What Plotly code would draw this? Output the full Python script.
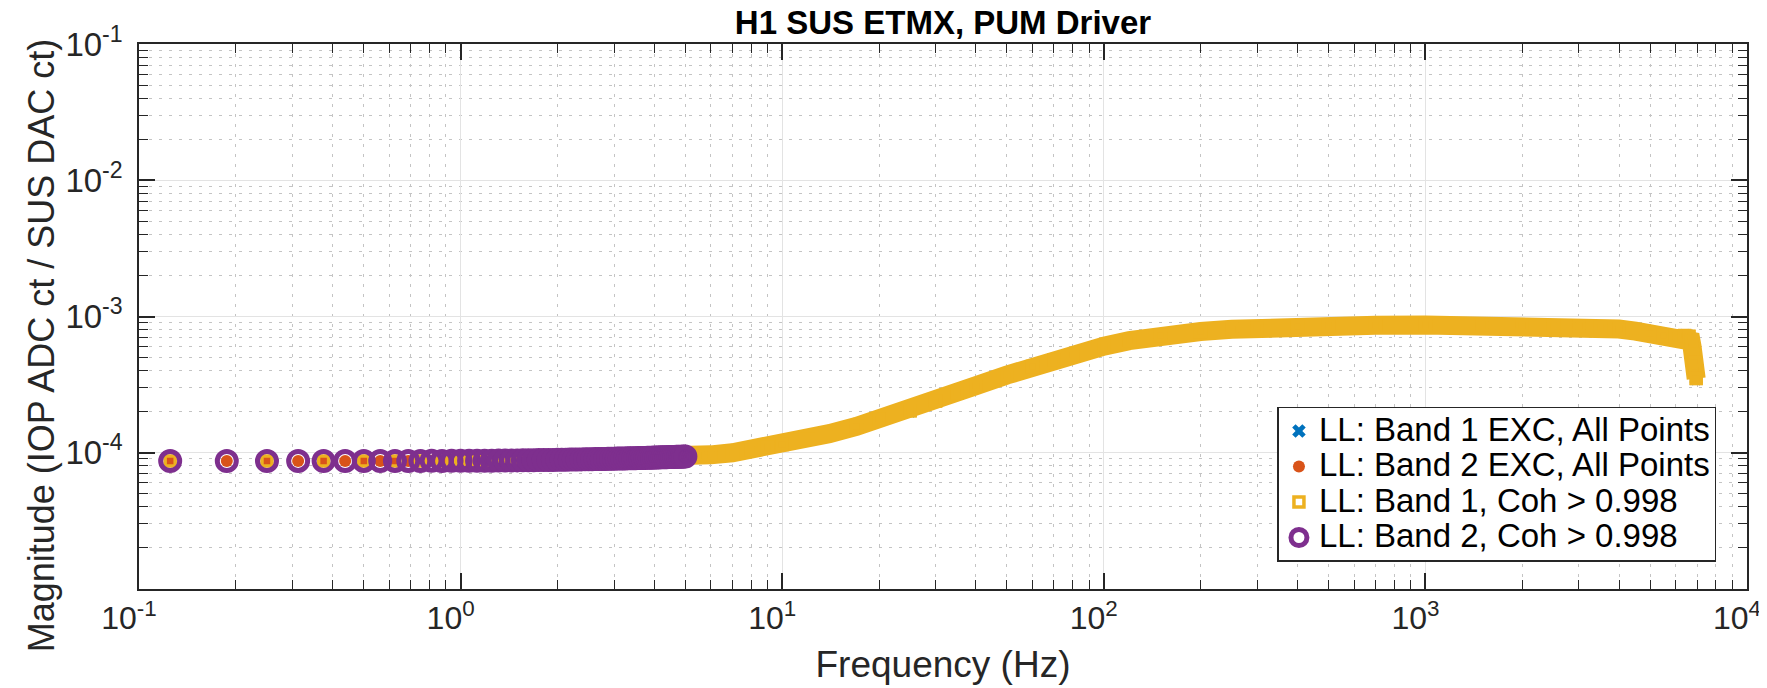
import plotly.graph_objects as go

# Band 2 excitation points (0.0625 Hz spacing), magnitude
band2_freq = [
    0.125, 0.1875, 0.25, 0.3125, 0.375, 0.4375, 0.5, 0.5625, 0.625, 0.6875,
    0.75, 0.8125, 0.875, 0.9375, 1.0,
    1.0625, 1.125, 1.1875, 1.25, 1.3125, 1.375, 1.4375, 1.5, 1.5625, 1.625,
    1.6875, 1.75, 1.8125, 1.875, 1.9375, 2.0,
    2.0625, 2.125, 2.1875, 2.25, 2.3125, 2.375, 2.4375, 2.5, 2.5625, 2.625,
    2.6875, 2.75, 2.8125, 2.875, 2.9375, 3.0,
    3.0625, 3.125, 3.1875, 3.25, 3.3125, 3.375, 3.4375, 3.5, 3.5625, 3.625,
    3.6875, 3.75, 3.8125, 3.875, 3.9375, 4.0,
    4.0625, 4.125, 4.1875, 4.25, 4.3125, 4.375, 4.4375, 4.5, 4.5625, 4.625,
    4.6875, 4.75, 4.8125, 4.875, 4.9375, 5.0,
]
band2_mag = [
    8.70e-5, 8.69e-5, 8.70e-5, 8.71e-5, 8.70e-5, 8.70e-5, 8.71e-5, 8.70e-5, 8.71e-5, 8.71e-5,
    8.71e-5, 8.72e-5, 8.71e-5, 8.72e-5, 8.72e-5,
    8.73e-5, 8.74e-5, 8.74e-5, 8.75e-5, 8.76e-5, 8.77e-5, 8.78e-5, 8.79e-5, 8.80e-5, 8.81e-5,
    8.82e-5, 8.83e-5, 8.84e-5, 8.85e-5, 8.86e-5, 8.88e-5,
    8.89e-5, 8.90e-5, 8.91e-5, 8.92e-5, 8.93e-5, 8.94e-5, 8.95e-5, 8.96e-5, 8.97e-5, 8.98e-5,
    8.99e-5, 9.00e-5, 9.01e-5, 9.02e-5, 9.03e-5, 9.05e-5,
    9.06e-5, 9.07e-5, 9.08e-5, 9.09e-5, 9.10e-5, 9.11e-5, 9.12e-5, 9.13e-5, 9.14e-5, 9.15e-5,
    9.16e-5, 9.17e-5, 9.18e-5, 9.19e-5, 9.20e-5, 9.22e-5,
    9.23e-5, 9.24e-5, 9.25e-5, 9.26e-5, 9.27e-5, 9.28e-5, 9.29e-5, 9.30e-5, 9.31e-5, 9.32e-5,
    9.33e-5, 9.34e-5, 9.35e-5, 9.36e-5, 9.37e-5, 9.38e-5,
]

# Band 1 points (0.125 Hz spacing at low f, then samples along the dense trace)
band1_freq = [
    0.125, 0.25, 0.375, 0.5, 0.625, 0.75, 0.875, 1.0, 1.125, 1.25,
    1.375, 1.5, 1.625, 1.75, 1.875, 2.0, 2.5, 3.0, 3.5, 4.0,
    4.5, 5.0, 5.5, 6.0, 7.0, 8.0, 9.0, 10, 12, 14,
    17, 20, 25, 30, 35, 40, 50, 60, 70, 80,
    100, 120, 150, 200, 250, 300, 400, 500, 700, 1000,
    1500, 2000, 2500, 3000, 3500, 4000, 4500, 5000, 5500, 6000,
    6400, 6600, 6700, 6750, 6800, 6850, 6900, 6950,
]
band1_mag = [
    8.70e-5, 8.70e-5, 8.70e-5, 8.71e-5, 8.71e-5, 8.71e-5, 8.71e-5, 8.72e-5, 8.74e-5, 8.75e-5,
    8.77e-5, 8.79e-5, 8.81e-5, 8.83e-5, 8.85e-5, 8.88e-5, 8.96e-5, 9.05e-5, 9.13e-5, 9.22e-5,
    9.30e-5, 9.40e-5, 9.50e-5, 9.65e-5, 1.00e-4, 1.05e-4, 1.10e-4, 1.15e-4, 1.26e-4, 1.38e-4,
    1.56e-4, 1.76e-4, 2.03e-4, 2.40e-4, 2.76e-4, 3.10e-4, 3.72e-4, 4.30e-4, 4.80e-4, 5.25e-4,
    6.05e-4, 6.65e-4, 7.25e-4, 7.75e-4, 8.05e-4, 8.25e-4, 8.45e-4, 8.55e-4, 8.62e-4, 8.65e-4,
    8.65e-4, 8.62e-4, 8.55e-4, 8.50e-4, 8.35e-4, 8.10e-4, 7.80e-4, 7.50e-4, 7.25e-4, 7.20e-4,
    7.25e-4, 7.15e-4, 6.60e-4, 6.00e-4, 5.30e-4, 4.60e-4, 4.00e-4, 3.50e-4,
]

x_tick_vals = [0.1, 1, 10, 100, 1000, 10000]
x_tick_text = ["10<sup>-1</sup>", "10<sup>0</sup>", "10<sup>1</sup>",
               "10<sup>2</sup>", "10<sup>3</sup>", "10<sup>4</sup>"]
y_tick_vals = [1e-4, 1e-3, 1e-2, 1e-1]
y_tick_text = ["10<sup>-4</sup>", "10<sup>-3</sup>", "10<sup>-2</sup>", "10<sup>-1</sup>"]

x_minor = [m * 10.0 ** k for k in range(-1, 4) for m in range(2, 10)]
y_minor = [m * 10.0 ** k for k in range(-5, -1) for m in range(2, 10)]

BLUE = "#0072BD"
ORANGE = "#D95319"
YELLOW = "#EDB120"
PURPLE = "#7E2F8E"
FONT = "Liberation Sans, Arial, sans-serif"


def leg(txt):
    # bigger text than the legend's own line height, to keep rows tight
    return '<span style="font-size:33px">' + txt + "</span>"


fig = go.Figure()

fig.add_trace(go.Scatter(
    x=band1_freq, y=band1_mag, mode="markers", name=leg("LL: Band 1 EXC, All Points"),
    marker=dict(symbol="x", size=12, color=BLUE, line=dict(width=0)),
))
fig.add_trace(go.Scatter(
    x=band2_freq, y=band2_mag, mode="markers", name=leg("LL: Band 2 EXC, All Points"),
    marker=dict(symbol="circle", size=12, color=ORANGE, line=dict(width=0)),
))
# dense part of band 1 merges into a thick band
dense = [(f, m) for f, m in zip(band1_freq, band1_mag) if f >= 1.0]
fig.add_trace(go.Scatter(
    x=[d[0] for d in dense], y=[d[1] for d in dense], mode="lines+markers",
    line=dict(color=YELLOW, width=19),
    marker=dict(symbol="square", size=13, color=YELLOW, line=dict(width=0)),
    showlegend=False, hoverinfo="skip",
))
fig.add_trace(go.Scatter(
    x=band1_freq, y=band1_mag, mode="markers", name=leg("LL: Band 1, Coh > 0.998"),
    marker=dict(symbol="square-open", size=10, color=YELLOW, line=dict(width=3.5, color=YELLOW)),
))
fig.add_trace(go.Scatter(
    x=band2_freq, y=band2_mag, mode="markers", name=leg("LL: Band 2, Coh > 0.998"),
    marker=dict(symbol="circle-open", size=19, color=PURPLE, line=dict(width=5, color=PURPLE)),
))

axis_common = dict(
    type="log", showline=True, linecolor="#262626", linewidth=1.5, mirror="allticks",
    ticks="inside", ticklen=16, tickwidth=1.5, tickcolor="#262626",
    showgrid=True, gridcolor="#e3e3e3", gridwidth=1.2, zeroline=False, automargin=False,
    minor=dict(ticks="inside", ticklen=9, tickwidth=1.2, tickcolor="#262626",
               showgrid=True, gridcolor="#c4c4c4", gridwidth=1, griddash="3px,7px"),
)

fig.update_xaxes(
    **axis_common, range=[-1, 4], tickmode="array", tickvals=x_tick_vals, ticktext=x_tick_text,
    ticklabelstandoff=0, ticklabelshift=-10,
    tickfont=dict(family=FONT, size=32, color="#262626"),
    title=dict(text="Frequency (Hz)", font=dict(family=FONT, size=37, color="#262626"), standoff=16),
)
fig.update_xaxes(minor_tickvals=x_minor)
fig.update_yaxes(
    **axis_common, range=[-5, -1], tickmode="array", tickvals=y_tick_vals, ticktext=y_tick_text,
    ticklabelstandoff=8, tickfont=dict(family=FONT, size=33, color="#262626"),
)
fig.update_yaxes(minor_tickvals=y_minor)

fig.add_annotation(
    text="Magnitude (IOP ADC ct / SUS DAC ct)", textangle=-90,
    xref="paper", x=-0.061, xanchor="center",
    yref="paper", y=0.447, yanchor="middle",
    showarrow=False, font=dict(family=FONT, size=36, color="#262626"),
)

fig.update_layout(
    width=1767, height=688,
    margin=dict(l=131, r=28, t=36, b=107),
    paper_bgcolor="white", plot_bgcolor="white",
    title=dict(text="<b>H1 SUS ETMX, PUM Driver</b>", x=0.5, xref="paper",
               y=0.996, yref="container", yanchor="top", pad=dict(t=0),
               font=dict(family=FONT, size=33, color="black")),
    legend=dict(x=0.981, y=0.05, xanchor="right", yanchor="bottom",
                bgcolor="white", bordercolor="#262626", borderwidth=1.5,
                font=dict(family=FONT, size=25, color="black"), itemsizing="trace"),
    showlegend=True,
)

fig.write_html("out.html")
